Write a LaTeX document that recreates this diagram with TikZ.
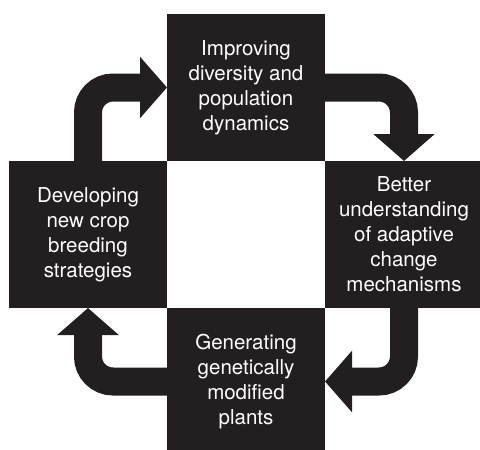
\documentclass[tikz,border=0pt]{standalone}
\usepackage{fontspec}
\setmainfont{TeX Gyre Heros}
\usetikzlibrary{positioning,arrows.meta}
\definecolor{ink}{HTML}{231F20}
\begin{document}
\begin{tikzpicture}[
 x=1pt,y=-1pt,
 box/.style={fill=ink,text=white,inner sep=0pt,outer sep=0pt,
  minimum width=158pt,minimum height=147pt,align=center,
  font=\fontsize{20.5}{25}\selectfont},
 flow/.style={draw=ink,line width=28pt,rounded corners=25pt,
  -{Triangle[length=27pt,width=60pt]}}]
 \useasboundingbox (0,0) rectangle (480,450);
 % four stages round an empty square
 \node[box] (improve) at (246,87.5) {Improving\\diversity and\\population\\dynamics};
 \node[box,below right=0pt of improve] (understand) {Better\\understanding\\of adaptive\\change\\mechanisms};
 \node[box,below left=0pt of improve] (develop) {Developing\\new crop\\breeding\\strategies};
 \node[box,below right=0pt of develop] (generate) {Generating\\genetically\\modified\\plants};
 % cycle arrows
 \draw[flow] (develop.north) |- (improve.west);
 \draw[flow] (improve.east) -| (understand.north);
 \draw[flow] (understand.south) |- (generate.east);
 \draw[flow] (generate.west) -| (develop.south);
\end{tikzpicture}
\end{document}
